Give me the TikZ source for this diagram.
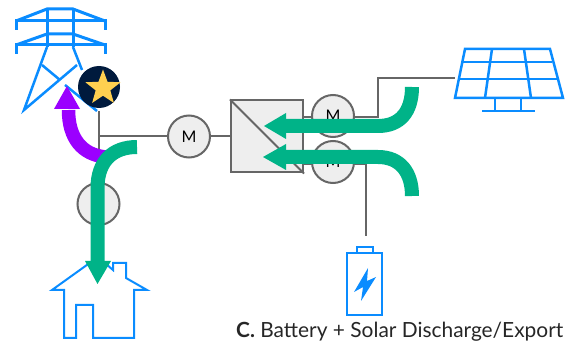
\documentclass[tikz,border=0pt]{standalone}
\usepackage{fontspec}
\setmainfont{Lato}
\newfontfamily\capfont{Lato}
\usetikzlibrary{shapes.geometric}
\definecolor{blueicon}{HTML}{0A8CFF}
\definecolor{wire}{HTML}{666666}
\definecolor{flow}{HTML}{00B388}
\definecolor{purp}{HTML}{9B00FF}
\definecolor{navy}{HTML}{001A3D}
\definecolor{gold}{HTML}{FFD050}
\definecolor{boxfill}{HTML}{EEEEEE}
\tikzset{
  icon/.style={draw=blueicon,line width=2.5pt,line join=miter},
  wireline/.style={draw=wire,line width=2pt},
  meter/.style={circle,draw=wire,fill=boxfill,line width=2pt,minimum size=42pt,inner sep=0pt,font=\capfont\fontsize{16}{16}\selectfont},
  greenflow/.style={draw=flow,line width=14pt},
  purpleflow/.style={draw=purp,line width=13.5pt},
}
\begin{document}
\begin{tikzpicture}[x=1pt,y=-1pt]
\useasboundingbox (0,0) rectangle (566,342);
% anchors
\coordinate (gridtap) at (98.5,111);
\coordinate (junction) at (98.5,136.5);
\coordinate (solarend) at (455,78);
\coordinate (solarcorner) at (378,78);
\coordinate (solarlow) at (378,117);
\coordinate (battop) at (365.5,236);
\coordinate (batjoin) at (365.5,164);
% wires
\node[meter] (mgrid) at (189,136.5) {M};
\node[draw=wire,fill=boxfill,line width=2pt,minimum size=72pt,inner sep=0pt] (inv) at (267,136.5) {};
\draw[wireline] (inv.north west) -- (inv.south east);
\draw[wireline] (gridtap) -- (junction) -- (mgrid);
\draw[wireline] (mgrid) -- (inv.west);
\draw[wireline] (303,117) -- (solarlow) -- (solarcorner) -- (solarend);
\draw[wireline] (303,164) -- (batjoin) -- (battop);
\node[meter] (msolar) at (333,116) {M};
\node[meter] (mbat) at (333,162) {M};
\draw[wireline] (junction) -- (98.5,184);
\node[meter] (mhouse) at (98.5,204) {};
% tower
\begin{scope}[icon]
\begin{scope}[line width=3pt]
\draw (16,30) -- (16,21) -- (105,21) -- (105,30);
\draw (16,21) -- (47,9) -- (73,9) -- (105,21);
\draw (16,54) -- (16,45) -- (105,45) -- (105,54);
\draw (16,45) -- (47,34) -- (73,34) -- (105,45);
\draw (47,9) -- (47,47);
\draw (73,9) -- (73,47);
\end{scope}
\draw (47,47) -- (24,110) -- (77,65);
\draw (73,47) -- (82,70);
\draw (42,65) -- (60,80);
\draw (65,85) -- (97,111);
\end{scope}
% star
\node[circle,fill=navy,minimum size=42pt,inner sep=0pt] (badge) at (99,87) {};
\node[star,star points=5,star point ratio=2.4,fill=gold,minimum size=37pt,inner sep=0pt] (staricon) at (103,88) {};
% solar
\begin{scope}[icon]
\draw (465,49) -- (550,49) -- (563,98) -- (455,98) -- cycle;
\draw (463,62) -- (552,62);
\draw (459,79) -- (557,79);
\draw (492,49) -- (485,98);
\draw (524,49) -- (531,98);
\draw (495,98) -- (495,111);
\draw (521,98) -- (521,111);
\draw (482,111) -- (535,111);
\end{scope}
% house
\draw[icon,line width=2pt] (98,257) -- (52,290) -- (64,290) -- (64,338) -- (76,338) -- (76,305) -- (93,305) -- (93,338) -- (134,338) -- (134,290) -- (147,290) -- (126,278) -- (126,263) -- (113,263) -- (113,270) -- (98,257);
% battery
\draw[icon,line width=1.8pt] (347,253) rectangle (382,315);
\draw[icon,line width=1.5pt] (357,253) -- (357,247) -- (373,247) -- (373,253);
\fill[blueicon] (368,268) -- (354,292) -- (363,287) -- (361,301) -- (376,277) -- (367,281) -- cycle;
% purple flow
\draw[purpleflow] (68.5,110) .. controls (68.5,138) and (82,155) .. (106,157);
\fill[purp] (54,109) -- (80,109) -- (67,86) -- cycle;
% green flows
\draw[greenflow] (137,147) .. controls (112,147) and (97.5,162) .. (97.5,188) -- (97.5,262);
\fill[flow] (85,261) -- (111,261) -- (97.5,284) -- cycle;
\draw[greenflow] (412,87) .. controls (412,112) and (400,126) .. (378,126) -- (285,126);
\fill[flow] (286,113) -- (286,139) -- (264,126) -- cycle;
\draw[greenflow] (412,196) .. controls (412,172) and (400,157) .. (378,157) -- (285,157);
\fill[flow] (286,144) -- (286,170) -- (263,157) -- cycle;
% caption
\node[anchor=base west,inner sep=0pt,font=\capfont\fontsize{20.9}{20.9}\selectfont,text=black!85] (cap) at (236,337.5) {\textbf{C.} Battery + Solar Discharge/Export};
\end{tikzpicture}
\end{document}
